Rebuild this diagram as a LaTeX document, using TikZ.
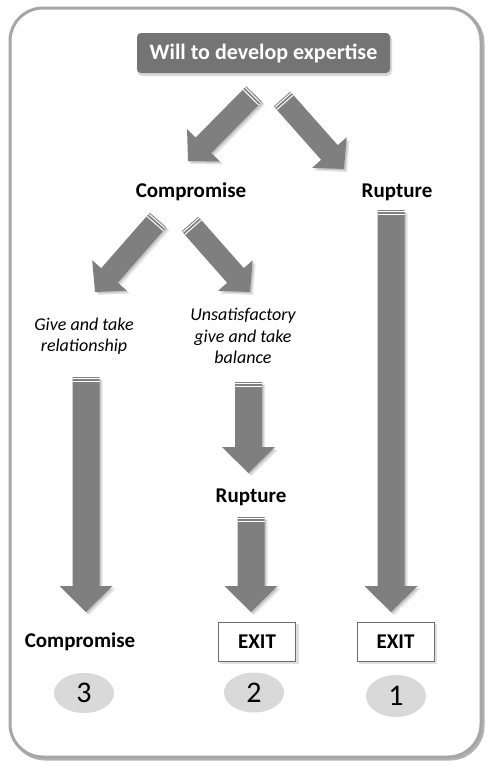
\documentclass[tikz,border=0pt]{standalone}
\usepackage{fontspec}
\setmainfont{Carlito}
\usetikzlibrary{calc,shapes.geometric}
\definecolor{arrgray}{HTML}{7F7F7F}
\definecolor{boxgray}{HTML}{747474}
\definecolor{framegray}{HTML}{A6A6A6}
\definecolor{ellgray}{HTML}{D9D9D9}
\newcommand\arrpoly[5]{($(#1)!#3!90:(#2)$) -- ($(#5)!#3!90:(#2)$) -- ($(#5)!#4!90:(#2)$) -- (#2) -- ($(#5)!#4!-90:(#2)$) -- ($(#5)!#3!-90:(#2)$) -- ($(#1)!#3!-90:(#2)$) -- cycle}
% #1 tail, #2 tip, #3 half shaft, #4 half head, #5 head length
\newcommand\blockarr[5]{%
  \coordinate (#1-hb) at ($(#2)!#5!(#1)$);
  \coordinate (#1-s1) at ($(#1)!1pt!(#2)$);
  \coordinate (#1-s2) at ($(#1)!2pt!(#2)$);
  \coordinate (#1-s3) at ($(#1)!4pt!(#2)$);
  \coordinate (#1-s4) at ($(#1)!5pt!(#2)$);
  \fill[black,opacity=.10,transform canvas={shift={(3pt,-3pt)}}] \arrpoly{#1}{#2}{#3}{#4}{#1-hb};
  \fill[black,opacity=.14,transform canvas={shift={(1.5pt,-1.5pt)}}] \arrpoly{#1}{#2}{#3}{#4}{#1-hb};
  \fill[arrgray] \arrpoly{#1}{#2}{#3}{#4}{#1-hb};
  \fill[white] ($(#1-s1)!#3!90:(#2)$) -- ($(#1-s2)!#3!90:(#2)$) -- ($(#1-s2)!#3!-90:(#2)$) -- ($(#1-s1)!#3!-90:(#2)$) -- cycle;
  \fill[white] ($(#1-s3)!#3!90:(#2)$) -- ($(#1-s4)!#3!90:(#2)$) -- ($(#1-s4)!#3!-90:(#2)$) -- ($(#1-s3)!#3!-90:(#2)$) -- cycle;
}
\tikzset{
  lbl/.style={font=\fontsize{21}{25}\selectfont\bfseries, inner sep=0pt},
  itl/.style={font=\fontsize{18}{21.5}\selectfont\itshape, align=center, inner sep=0pt},
  exitbox/.style={draw=gray!85!black, line width=1pt, fill=white, minimum width=77pt, minimum height=39pt, inner sep=0pt, font=\fontsize{21}{25}\selectfont\bfseries},
  numell/.style={ellipse, fill=ellgray, minimum width=60pt, minimum height=40pt, inner sep=0pt, font=\fontsize{30}{34}\selectfont},
  topbox/.style={fill=boxgray, rounded corners=4pt, minimum width=253pt, minimum height=40pt, inner sep=0pt, text=white, font=\fontsize{22}{26}\selectfont\bfseries}
}
\begin{document}
\begin{tikzpicture}[x=1pt,y=-1pt]
\useasboundingbox (0,0) rectangle (487,764);
% frame
\draw[gray!60, line width=3pt, rounded corners=33pt] (12,10) rectangle (483,759);
\draw[framegray, line width=3pt, rounded corners=33pt, fill=white] (10,8) rectangle (481,757);
% top box
\fill[black,opacity=.15,rounded corners=5pt] (137,34) rectangle (392,76);
\node[topbox] (top) at (263.5,53) {Will to develop expertise};
% labels
\node[lbl] (comp1) at (191,192) {Compromise};
\node[lbl] (rup1) at (397,192) {Rupture};
\node[itl] (give) at (84,336) {Give and take\\relationship};
\node[itl] (unsat) at (243,336) {Unsatisfactory\\give and take\\balance};
\node[lbl] (rup2) at (251,497) {Rupture};
\node[lbl] (comp2) at (80,642) {Compromise};
\fill[black,opacity=.12] (220,624) rectangle (299,664);
\fill[black,opacity=.12] (359,624) rectangle (437,664);
\node[exitbox] (exit2) at (257,641.5) {EXIT};
\node[exitbox] (exit1) at (395.5,641.5) {EXIT};
\node[numell] (n3) at (84,693) {3};
\node[numell] (n2) at (254,692.5) {2};
\node[numell, minimum height=42pt] (n1) at (396,696) {1};
% arrow coordinates
\coordinate (a1) at (254,94);   \coordinate (a1t) at (188,161);
\coordinate (a2) at (282,99);   \coordinate (a2t) at (344,169);
\coordinate (a3) at (158,220);  \coordinate (a3t) at (95,292);
\coordinate (a4) at (190,224);  \coordinate (a4t) at (250,292);
\coordinate (a5) at (86,377);   \coordinate (a5t) at (86,612);
\coordinate (a6) at (248.5,382);\coordinate (a6t) at (248.5,473);
\coordinate (a7) at (251,517);  \coordinate (a7t) at (251,612);
\coordinate (a8) at (391,210);  \coordinate (a8t) at (391,612);
\blockarr{a1}{a1t}{11pt}{23pt}{22pt}
\blockarr{a2}{a2t}{11pt}{23pt}{22pt}
\blockarr{a3}{a3t}{11pt}{23pt}{22pt}
\blockarr{a4}{a4t}{11pt}{23pt}{22pt}
\blockarr{a5}{a5t}{13.5pt}{26.5pt}{26pt}
\blockarr{a6}{a6t}{13.5pt}{26.5pt}{26pt}
\blockarr{a7}{a7t}{13.5pt}{26.5pt}{26pt}
\blockarr{a8}{a8t}{13.5pt}{26.5pt}{26pt}
\end{tikzpicture}
\end{document}
